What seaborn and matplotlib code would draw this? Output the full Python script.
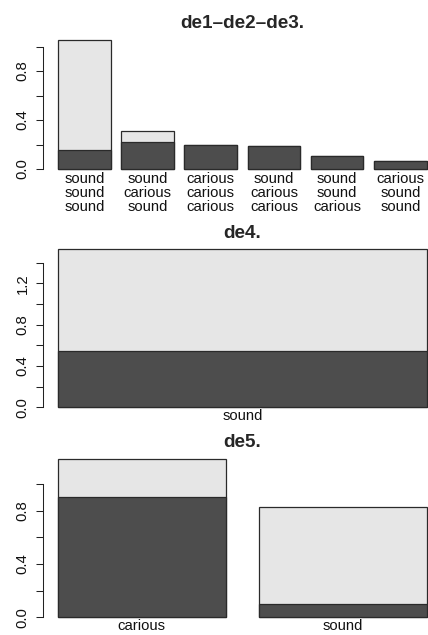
import numpy as np
import matplotlib
matplotlib.use("Agg")
import matplotlib.pyplot as plt
import seaborn as sns

sns.set_style("white")
plt.rcParams["font.family"] = ["Liberation Sans", "DejaVu Sans"]

# de1-de2-de3 combinations
combo_labels = ["sound\nsound\nsound", "sound\ncarious\nsound",
                "carious\ncarious\ncarious", "sound\ncarious\ncarious",
                "sound\nsound\ncarious", "carious\nsound\nsound"]
combo_dark = [0.158, 0.218, 0.196, 0.185, 0.106, 0.063]
combo_light = [0.897, 0.092, 0.0, 0.0, 0.0, 0.0]

# de4
de4_labels = ["sound"]
de4_dark = [0.548]
de4_light = [0.982]

# de5
de5_labels = ["carious", "sound"]
de5_dark = [0.900, 0.102]
de5_light = [0.285, 0.725]

panels = [
    ("de1\u2013de2\u2013de3.", combo_labels, combo_dark, combo_light, 1.0),
    ("de4.", de4_labels, de4_dark, de4_light, 1.4),
    ("de5.", de5_labels, de5_dark, de5_light, 1.0),
]

DARK = "#4d4d4d"
LIGHT = "#e6e6e6"
EDGE = "#2a2a2a"
FS = 10.7

W_PX, H_PX = 428, 635
fig = plt.figure(figsize=(W_PX / 100, H_PX / 100), dpi=100)

# pixel boxes of the plot regions (top, bottom), title centres, x-label pad
boxes = [(34.6, 174.2, 23.3, -1.6), (243.0, 413.6, 234.0, -3.2),
         (453.0, 623.6, 442.3, -3.4)]
left_px, right_px = 43.3, 441.4

for (title, cats, dark, light, ymax_tick), (top, bot, ty, xpad) in zip(panels, boxes):
    ax = fig.add_axes([left_px / W_PX, 1 - bot / H_PX,
                       (right_px - left_px) / W_PX, (bot - top) / H_PX])
    totals = [d + l for d, l in zip(dark, light)]
    sns.barplot(x=cats, y=totals, color=LIGHT, saturation=1, width=5 / 6,
                edgecolor=EDGE, linewidth=0.9, errorbar=None, ax=ax)
    sns.barplot(x=cats, y=dark, color=DARK, saturation=1, width=5 / 6,
                edgecolor=EDGE, linewidth=0.9, errorbar=None, ax=ax)

    n = len(cats)
    w = 1.2 * n - 0.2
    r_lo, r_hi = 0.2 - 0.04 * w, 1.2 * n + 0.04 * w
    ax.set_xlim((r_lo - 0.7) / 1.2, (r_hi - 0.7) / 1.2)
    hmax = max(totals)
    ax.set_ylim(-0.04 * hmax, 1.04 * hmax)

    ticks = np.round(np.arange(0, ymax_tick + 1e-9, 0.2), 1)
    ax.set_yticks(ticks)
    ax.set_yticklabels([f"{t:.1f}" if round(t / 0.4, 6).is_integer() else ""
                        for t in ticks], rotation=90, va="center")
    ax.tick_params(axis="y", length=5.4, width=0.75, pad=4.5, labelsize=FS,
                   color="#222222", labelcolor="#111111", direction="out", left=True)
    ax.tick_params(axis="x", length=0, pad=xpad, labelsize=FS, labelcolor="#111111")
    for lab in ax.get_xticklabels():
        lab.set_linespacing(1.02)

    for s in ("top", "right", "bottom"):
        ax.spines[s].set_visible(False)
    ax.spines["left"].set_bounds(0, ymax_tick)
    ax.spines["left"].set_linewidth(0.75)
    ax.spines["left"].set_color("#222222")
    ax.set_xlabel("")
    ax.set_ylabel("")

    fig.text((left_px + right_px) / 2 / W_PX, 1 - ty / H_PX, title,
             ha="center", va="center", fontsize=13.6, fontweight="bold")

fig.savefig("out.png", dpi=100)
